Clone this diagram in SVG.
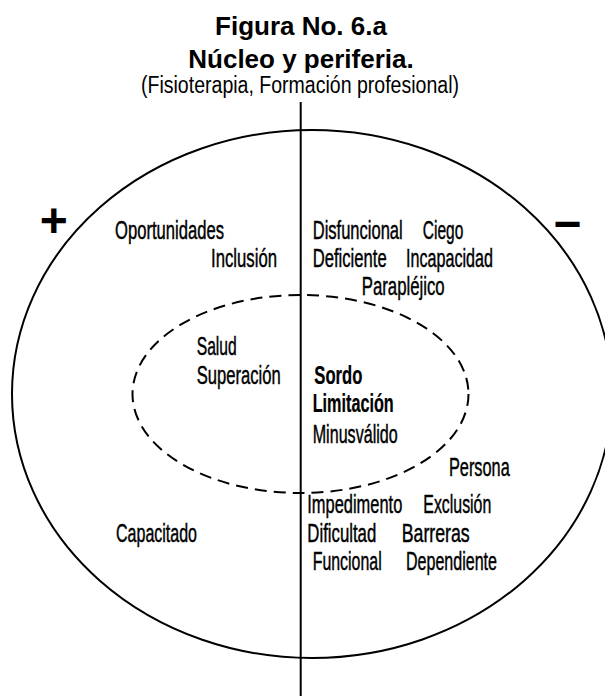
<svg xmlns="http://www.w3.org/2000/svg" width="605" height="696" viewBox="0 0 605 696">
<style>
.t{font-family:"Liberation Sans",Arial,sans-serif;font-weight:bold;font-size:26px;fill:#000;text-anchor:middle}
.s{font-family:"Liberation Sans Narrow","Liberation Sans",Arial,sans-serif;font-size:23px;fill:#000;text-anchor:middle}
.w{font-family:"Liberation Sans",Arial,sans-serif;font-size:25px;fill:#000;stroke:#000;stroke-width:0.45}
.b{font-weight:bold;stroke-width:0.25}
.sym{font-family:"Liberation Sans",Arial,sans-serif;font-weight:bold;font-size:48px;fill:#000;text-anchor:middle}
.ring{fill:none;stroke:#000;stroke-width:2}
.dash{fill:none;stroke:#000;stroke-width:2;stroke-dasharray:12 7}
.axis{stroke:#000;stroke-width:2}
</style>
<rect width="605" height="696" fill="#fff"/>
<g id="title">
<text class="t" x="301" y="35">Figura No. 6.a</text>
<text class="t" x="301" y="68">Núcleo y periferia.</text>
<text class="s" x="300" y="93" textLength="318" lengthAdjust="spacingAndGlyphs">(Fisioterapia, Formación profesional)</text>
</g>
<g id="periferia"><ellipse class="ring" cx="312" cy="394" rx="300" ry="264"/></g>
<g id="nucleo"><ellipse class="dash" cx="300.5" cy="394" rx="168" ry="99"/></g>
<g id="connectors"><line class="axis" x1="300.7" y1="102" x2="300.7" y2="696"/></g>
<g id="signo-mas"><text class="sym" x="53.7" y="236.5">+</text></g>
<g id="signo-menos"><text class="sym" x="567.5" y="240">−</text></g>
<g id="oportunidades"><text class="w" transform="translate(115 239.3) scale(0.655 1)" textLength="166.4" lengthAdjust="spacingAndGlyphs">Oportunidades</text></g>
<g id="inclusion"><text class="w" transform="translate(211 267.3) scale(0.655 1)" textLength="100.8" lengthAdjust="spacingAndGlyphs">Inclusión</text></g>
<g id="disfuncional"><text class="w" transform="translate(312.7 239.3) scale(0.655 1)" textLength="137.4" lengthAdjust="spacingAndGlyphs">Disfuncional</text></g>
<g id="ciego"><text class="w" transform="translate(422.7 239.3) scale(0.655 1)" textLength="62" lengthAdjust="spacingAndGlyphs">Ciego</text></g>
<g id="deficiente"><text class="w" transform="translate(312.7 267.3) scale(0.655 1)" textLength="113" lengthAdjust="spacingAndGlyphs">Deficiente</text></g>
<g id="incapacidad"><text class="w" transform="translate(406 267.3) scale(0.655 1)" textLength="132.8" lengthAdjust="spacingAndGlyphs">Incapacidad</text></g>
<g id="paraplejico"><text class="w" transform="translate(361.7 295) scale(0.655 1)" textLength="126.7" lengthAdjust="spacingAndGlyphs">Parapléjico</text></g>
<g id="salud"><text class="w" transform="translate(196.7 355) scale(0.655 1)" textLength="61.1" lengthAdjust="spacingAndGlyphs">Salud</text></g>
<g id="superacion"><text class="w" transform="translate(196.7 384) scale(0.655 1)" textLength="128.2" lengthAdjust="spacingAndGlyphs">Superación</text></g>
<g id="sordo"><text class="w b" transform="translate(314.3 384) scale(0.655 1)" textLength="73.3" lengthAdjust="spacingAndGlyphs">Sordo</text></g>
<g id="limitacion"><text class="w b" transform="translate(312.7 411.7) scale(0.655 1)" textLength="123.7" lengthAdjust="spacingAndGlyphs">Limitación</text></g>
<g id="minusvalido"><text class="w" transform="translate(312.7 442.7) scale(0.655 1)" textLength="129.8" lengthAdjust="spacingAndGlyphs">Minusválido</text></g>
<g id="persona"><text class="w" transform="translate(449 475.5) scale(0.655 1)" textLength="92.7" lengthAdjust="spacingAndGlyphs">Persona</text></g>
<g id="impedimento"><text class="w" transform="translate(307.3 513.3) scale(0.655 1)" textLength="145" lengthAdjust="spacingAndGlyphs">Impedimento</text></g>
<g id="exclusion"><text class="w" transform="translate(423.3 513.3) scale(0.655 1)" textLength="103.8" lengthAdjust="spacingAndGlyphs">Exclusión</text></g>
<g id="capacitado"><text class="w" transform="translate(116 542.3) scale(0.655 1)" textLength="123.7" lengthAdjust="spacingAndGlyphs">Capacitado</text></g>
<g id="dificultad"><text class="w" transform="translate(307.3 542.3) scale(0.655 1)" textLength="105.3" lengthAdjust="spacingAndGlyphs">Dificultad</text></g>
<g id="barreras"><text class="w" transform="translate(401.7 542.3) scale(0.655 1)" textLength="103.8" lengthAdjust="spacingAndGlyphs">Barreras</text></g>
<g id="funcional"><text class="w" transform="translate(312.7 570) scale(0.655 1)" textLength="105.3" lengthAdjust="spacingAndGlyphs">Funcional</text></g>
<g id="dependiente"><text class="w" transform="translate(406 570) scale(0.655 1)" textLength="138.9" lengthAdjust="spacingAndGlyphs">Dependiente</text></g>
</svg>
